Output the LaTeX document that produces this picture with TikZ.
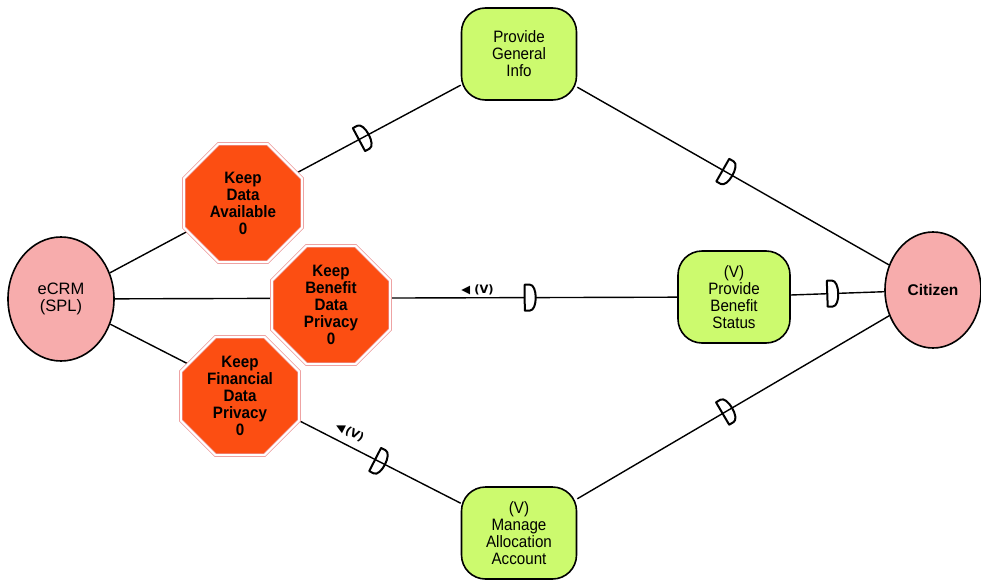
\documentclass[tikz,border=0pt]{standalone}
\usepackage{fontspec}
\setmainfont{Liberation Sans}
\newfontfamily\narrowfont{Liberation Sans}[FakeStretch=0.92]
\newfontfamily\symfont{DejaVu Sans}
\usetikzlibrary{shapes.geometric,backgrounds}
\definecolor{goalgreen}{RGB}{204,250,110}
\definecolor{actorpink}{RGB}{247,172,172}
\definecolor{softred}{RGB}{252,78,18}
\definecolor{softedge}{RGB}{236,150,150}
\begin{document}
\begin{tikzpicture}[x=1pt,y=-1pt,
  actor/.style={ellipse, draw=black, line width=1.6pt, fill=actorpink,
    minimum width=106pt, minimum height=124pt, inner sep=0pt, align=center,
    font=\fontsize{16.5}{17}\selectfont},
  goal/.style={rectangle, rounded corners=24pt, draw=black, line width=1.6pt,
    fill=goalgreen, minimum width=115pt, minimum height=92pt, align=center,
    font=\narrowfont\fontsize{16.5}{17}\selectfont},
  soft/.style={regular polygon, regular polygon sides=8, minimum size=128pt,
    inner sep=0pt, fill=softred, draw=softedge, double=white,
    double distance=2pt, line width=0.7pt, align=center,
    font=\narrowfont\bfseries\fontsize{16.5}{17}\selectfont},
  link/.style={draw=black, line width=1.4pt},
  dmark/.pic={\draw[line width=2pt, line join=round]
    (-4,-13) -- (1,-13) .. controls (9,-13) and (9,13) .. (1,13) -- (-4,13) -- cycle;},
  dmarkw/.pic={\draw[line width=2pt, line join=round, fill=white]
    (-4,-13) -- (1,-13) .. controls (9,-13) and (9,13) .. (1,13) -- (-4,13) -- cycle;},
  lbl/.style={font=\symfont\bfseries\fontsize{11.5}{12}\selectfont, inner sep=1pt}
]
\useasboundingbox (0,0) rectangle (981,583);

\node[actor] (ecrm) at (61,299) {eCRM\\(SPL)};
\node[actor, minimum width=96pt, minimum height=116pt, font=\bfseries\fontsize{15.5}{17}\selectfont] (citizen) at (933,290) {Citizen};

\node[goal] (pgi) at (519,54) {Provide\\General\\Info};
\node[goal, minimum width=112pt] (pbs) at (734,297) {(V)\\Provide\\Benefit\\Status};
\node[goal] (maa) at (519,533) {(V)\\Manage\\Allocation\\Account};

\node[soft] (kda) at (243,203) {Keep\\Data\\Available\\0};
\node[soft] (kfdp) at (240,396) {Keep\\Financial\\Data\\Privacy\\0};
\node[soft] (kbdp) at (331,305) {Keep\\Benefit\\Data\\Privacy\\0};

\begin{scope}[on background layer]
  \draw[link] (ecrm) -- (pgi) pic[pos=0.72, sloped]{dmark};
  \draw[link] (pgi) -- (citizen) pic[pos=0.478, sloped]{dmark};
  \draw[link] (ecrm) -- (pbs)
    node[pos=0.645, above=1pt, lbl] {◀ (V)}
    pic[pos=0.736, sloped]{dmarkw};
  \draw[link] (pbs) -- (citizen) pic[pos=0.433, sloped]{dmarkw};
  \draw[link] (ecrm) -- (maa)
    node[pos=0.667, sloped, above=6pt, lbl] {◀\,(V)}
    pic[pos=0.766, sloped]{dmark};
  \draw[link] (maa) -- (citizen) pic[pos=0.477, sloped]{dmark};
\end{scope}
\end{tikzpicture}
\end{document}
